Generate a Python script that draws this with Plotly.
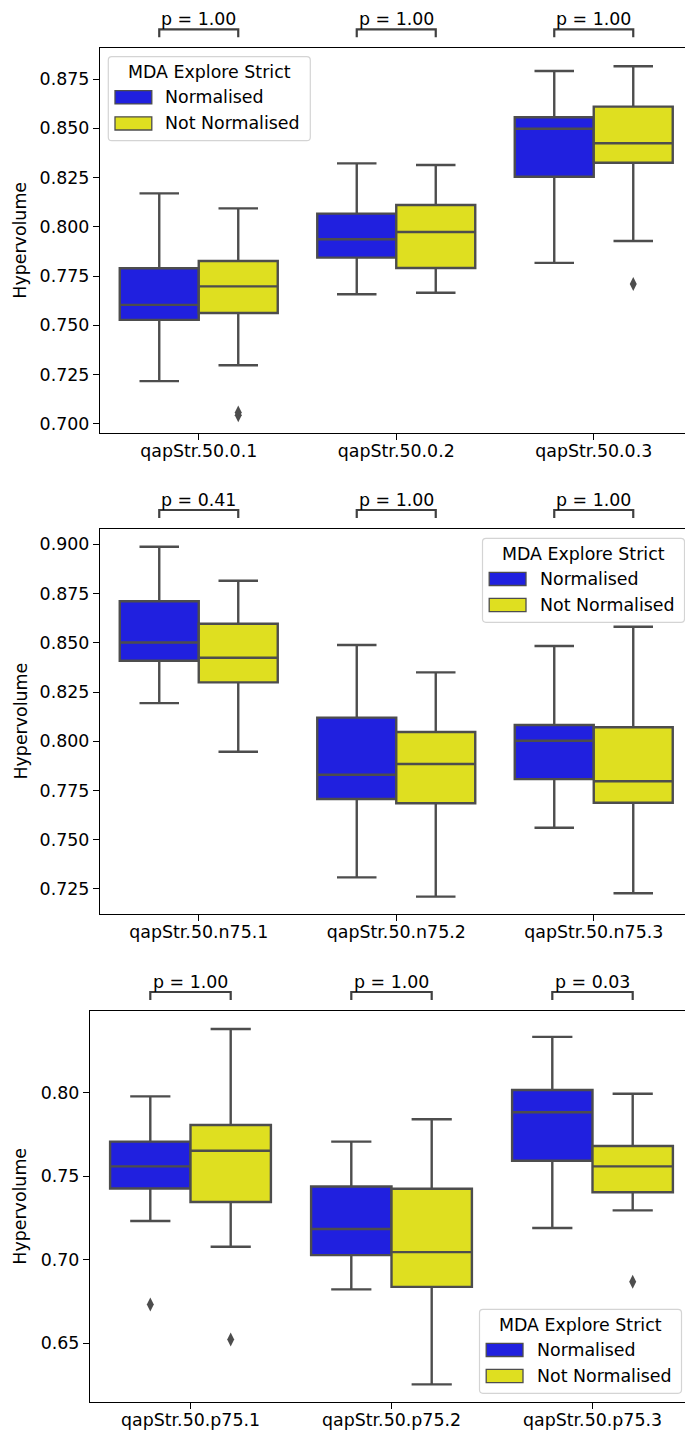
import plotly.graph_objects as go

# ---------------------------------------------------------------- data
cats_top = ["qapStr.50.0.1", "qapStr.50.0.2", "qapStr.50.0.3"]
cats_mid = ["qapStr.50.n75.1", "qapStr.50.n75.2", "qapStr.50.n75.3"]
cats_bot = ["qapStr.50.p75.1", "qapStr.50.p75.2", "qapStr.50.p75.3"]

# five-number summaries per category: (lower whisker, Q1, median, Q3, upper whisker)
top_norm = [
    (0.7217, 0.7528, 0.7604, 0.7790, 0.8170),
    (0.7658, 0.7844, 0.7937, 0.8067, 0.8322),
    (0.7817, 0.8254, 0.8498, 0.8556, 0.8791),
]
top_notnorm = [
    (0.7298, 0.7563, 0.7698, 0.7827, 0.8094),
    (0.7666, 0.7791, 0.7974, 0.8111, 0.8314),
    (0.7928, 0.8325, 0.8424, 0.8610, 0.8815),
]
top_out_norm = [[], [], []]
top_out_notnorm = [[0.7044, 0.7058], [], [0.7710]]
top_pvalues = [1.00, 1.00, 1.00]

mid_norm = [
    (0.8194, 0.8409, 0.8502, 0.8711, 0.8988),
    (0.7309, 0.7707, 0.7830, 0.8120, 0.8489),
    (0.7561, 0.7808, 0.8003, 0.8083, 0.8484),
]
mid_notnorm = [
    (0.7947, 0.8299, 0.8424, 0.8597, 0.8815),
    (0.7211, 0.7685, 0.7885, 0.8047, 0.8350),
    (0.7228, 0.7688, 0.7797, 0.8071, 0.8582),
]
mid_out_norm = [[], [], []]
mid_out_notnorm = [[], [], []]
mid_pvalues = [0.41, 1.00, 1.00]

bot_norm = [
    (0.7232, 0.7427, 0.7559, 0.7707, 0.7978),
    (0.6823, 0.7028, 0.7184, 0.7439, 0.7707),
    (0.7190, 0.7593, 0.7883, 0.8016, 0.8334),
]
bot_notnorm = [
    (0.7078, 0.7346, 0.7653, 0.7807, 0.8381),
    (0.6254, 0.6838, 0.7046, 0.7425, 0.7841),
    (0.7296, 0.7404, 0.7559, 0.7681, 0.7994),
]
bot_out_norm = [[0.6733], [], []]
bot_out_notnorm = [[0.6523], [], [0.6868]]
bot_pvalues = [1.00, 1.00, 0.03]

ticks_top = [0.700, 0.725, 0.750, 0.775, 0.800, 0.825, 0.850, 0.875]
ticks_mid = [0.725, 0.750, 0.775, 0.800, 0.825, 0.850, 0.875, 0.900]
ticks_bot = [0.65, 0.70, 0.75, 0.80]

hue_names = ["Normalised", "Not Normalised"]
legend_title = "MDA Explore Strict"
y_title = "Hypervolume"

# ---------------------------------------------------------------- style
W, H = 685, 1437
BLUE = "#2020df"
YELLOW = "#dfdf20"
GRAY = "#4d4d4d"
FONT = "DejaVu Sans"
FS = 17.4


def px(x):
    return x / W


def py(y):
    return 1 - y / H


# pixel geometry of each panel: top, bottom, left spine, px per category, y range, legend corner
panels = [
    dict(cats=cats_top, norm=top_norm, notnorm=top_notnorm, on=top_out_norm,
         onn=top_out_notnorm, pv=top_pvalues, ticks=ticks_top, fmt=".3f",
         top=48.3, bottom=433.0, left=100.0, unit=197.5, yr=(0.6954, 0.8906),
         leg=(108.3, 56.7)),
    dict(cats=cats_mid, norm=mid_norm, notnorm=mid_notnorm, on=mid_out_norm,
         onn=mid_out_notnorm, pv=mid_pvalues, ticks=ticks_mid, fmt=".3f",
         top=529.0, bottom=914.0, left=100.0, unit=197.5, yr=(0.7123, 0.9078),
         leg=(482.5, 538.3)),
    dict(cats=cats_bot, norm=bot_norm, notnorm=bot_notnorm, on=bot_out_norm,
         onn=bot_out_notnorm, pv=bot_pvalues, ticks=ticks_bot, fmt=".2f",
         top=1011.0, bottom=1402.3, left=90.0, unit=201.0, yr=(0.6147, 0.8489),
         leg=(479.5, 1309.3)),
]

fig = go.Figure()
shapes = []
annotations = []
layout_axes = {}

for k, p in enumerate(panels):
    n = "" if k == 0 else str(k + 1)
    xa, ya = "x" + n, "y" + n
    idx = list(range(len(p["cats"])))

    for summ, outs, color, off in [(p["norm"], p["on"], BLUE, -0.2),
                                   (p["notnorm"], p["onn"], YELLOW, 0.2)]:
        fig.add_trace(go.Box(
            x=[i + off for i in idx],
            lowerfence=[s[0] for s in summ],
            q1=[s[1] for s in summ],
            median=[s[2] for s in summ],
            q3=[s[3] for s in summ],
            upperfence=[s[4] for s in summ],
            width=0.4, whiskerwidth=0.5, boxpoints=False,
            fillcolor=color, line=dict(color=GRAY, width=2.4),
            showlegend=False, hoverinfo="skip", xaxis=xa, yaxis=ya,
        ))
        ox = [i + off for i in idx for _ in outs[i]]
        oy = [v for i in idx for v in outs[i]]
        if oy:
            fig.add_trace(go.Scatter(
                x=ox, y=oy, mode="markers",
                marker=dict(symbol="diamond-tall", size=10, color=GRAY, line=dict(width=0)),
                showlegend=False, hoverinfo="skip", xaxis=xa, yaxis=ya,
            ))

    layout_axes["xaxis" + n] = dict(
        domain=[px(p["left"]), 1], anchor=ya,
        range=[-0.5, -0.5 + (W - p["left"]) / p["unit"]],
        tickvals=idx, ticktext=p["cats"],
        showline=True, linecolor="black", linewidth=1.3, mirror=True,
        ticks="outside", ticklen=6, tickwidth=1.3, tickcolor="black",
        ticklabelstandoff=-4,
        showgrid=False, zeroline=False, automargin=False,
        tickfont=dict(family=FONT, size=FS, color="black"),
    )
    layout_axes["yaxis" + n] = dict(
        domain=[py(p["bottom"]), py(p["top"])], anchor=xa,
        range=list(p["yr"]), tickvals=p["ticks"], tickformat=p["fmt"],
        showline=True, linecolor="black", linewidth=1.3, mirror=False,
        ticks="outside", ticklen=6, tickwidth=1.3, tickcolor="black",
        showgrid=False, zeroline=False, automargin=False,
        tickfont=dict(family=FONT, size=FS, color="black"),
    )

    # y-axis title
    annotations.append(dict(
        text=y_title, xref="paper", yref="paper",
        x=px(20), y=py((p["top"] + p["bottom"]) / 2),
        textangle=-90, showarrow=False, xanchor="center", yanchor="middle",
        font=dict(family=FONT, size=FS, color="black"),
    ))

    # significance brackets above each category pair
    y_line = p["top"] - 19
    y_leg = p["top"] - 11
    for i in idx:
        x0, x1 = i - 0.2, i + 0.2
        shapes.append(dict(
            type="path", xref=xa, yref="paper",
            path=f"M {x0},{py(y_leg)} L {x0},{py(y_line)} L {x1},{py(y_line)} L {x1},{py(y_leg)}",
            line=dict(color="#404040", width=2.2),
        ))
        annotations.append(dict(
            text=f"p = {p['pv'][i]:.2f}", xref=xa, yref="paper",
            x=i, y=py(y_line - 10.5), showarrow=False,
            xanchor="center", yanchor="middle",
            font=dict(family=FONT, size=FS, color="black"),
        ))

    # legend box
    lx0, ly0 = p["leg"]
    lw, lh, r = 202.0, 84.0, 3.5
    lx1, ly1 = lx0 + lw, ly0 + lh

    def P(x, y):
        return f"{px(x)},{py(y)}"

    frame = (f"M {P(lx0 + r, ly0)} L {P(lx1 - r, ly0)} Q {P(lx1, ly0)} {P(lx1, ly0 + r)} "
             f"L {P(lx1, ly1 - r)} Q {P(lx1, ly1)} {P(lx1 - r, ly1)} "
             f"L {P(lx0 + r, ly1)} Q {P(lx0, ly1)} {P(lx0, ly1 - r)} "
             f"L {P(lx0, ly0 + r)} Q {P(lx0, ly0)} {P(lx0 + r, ly0)} Z")
    shapes.append(dict(type="path", xref="paper", yref="paper", path=frame,
                       fillcolor="rgba(255,255,255,0.8)",
                       line=dict(color="#d4d4d4", width=1.2), layer="above"))
    annotations.append(dict(
        text=legend_title, xref="paper", yref="paper",
        x=px(lx0 + lw / 2), y=py(ly0 + 15.2), showarrow=False,
        xanchor="center", yanchor="middle",
        font=dict(family=FONT, size=FS, color="black"),
    ))
    for name, color, dy in [(hue_names[0], BLUE, 40.6), (hue_names[1], YELLOW, 66.7)]:
        cy = ly0 + dy
        shapes.append(dict(type="rect", xref="paper", yref="paper",
                           x0=px(lx0 + 6.7), x1=px(lx0 + 43.5),
                           y0=py(cy + 6.6), y1=py(cy - 6.6),
                           fillcolor=color, line=dict(color=GRAY, width=1.3),
                           layer="above"))
        annotations.append(dict(
            text=name, xref="paper", yref="paper",
            x=px(lx0 + 55), y=py(cy), showarrow=False,
            xanchor="left", yanchor="middle",
            font=dict(family=FONT, size=FS, color="black"),
        ))

fig.update_layout(
    width=W, height=H,
    margin=dict(l=0, r=0, t=0, b=0),
    paper_bgcolor="white", plot_bgcolor="white",
    boxmode="overlay", showlegend=False,
    font=dict(family=FONT, size=FS, color="black"),
    shapes=shapes, annotations=annotations,
    **layout_axes,
)

fig.write_html("out.html", config={"displayModeBar": False})
